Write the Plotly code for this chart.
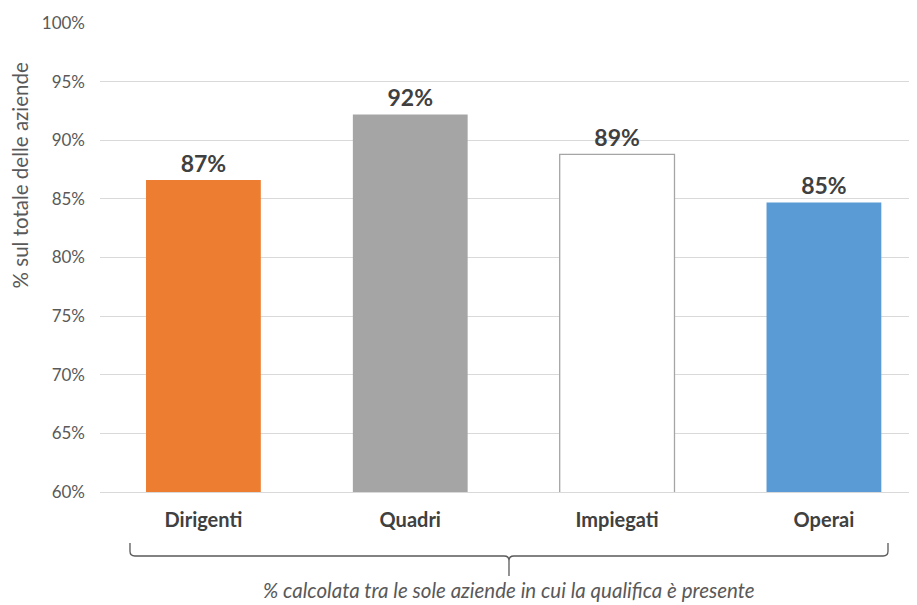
import plotly.graph_objects as go

categories = ["Dirigenti", "Quadri", "Impiegati", "Operai"]
values = [86.6, 92.2, 88.8, 84.7]
labels = ["87%", "92%", "89%", "85%"]
colors = ["#ED7D31", "#A5A5A5", "#FFFFFF", "#5B9BD5"]
line_colors = ["#ED7D31", "#A5A5A5", "#A5A5A5", "#5B9BD5"]
line_widths = [0, 0, 1.3, 0]
y_ticks = [60, 65, 70, 75, 80, 85, 90, 95, 100]
y_ticklabels = [f"{t}%" for t in y_ticks]

FONT = "Lato, 'Open Sans', sans-serif"

fig = go.Figure()
fig.add_trace(go.Bar(
    x=categories, y=values, width=0.555,
    marker=dict(color=colors, line=dict(color=line_colors, width=line_widths)),
    text=labels, textposition="outside", cliponaxis=False,
    textfont=dict(family=FONT, size=23, color="#404040", weight="bold"),
    hoverinfo="skip",
))

fig.update_layout(
    width=909, height=597,
    margin=dict(l=92, r=0, t=15, b=113),
    paper_bgcolor="white", plot_bgcolor="white",
    showlegend=False,
    font=dict(family=FONT),
    xaxis=dict(
        range=[-0.5, 3.45], showgrid=False, showline=True, linecolor="#D9D9D9",
        linewidth=1, ticks="", tickfont=dict(family=FONT, size=20, color="#404040", weight="bold"),
        ticklabelstandoff=10,
    ),
    yaxis=dict(
        range=[60, 100], tickvals=y_ticks, ticktext=y_ticklabels,
        showgrid=True, gridcolor="#D9D9D9", gridwidth=1, zeroline=False,
        tickfont=dict(family=FONT, size=17, color="#595959"),
        ticklabelstandoff=14,
    ),
)

fig.add_annotation(
    text="% sul totale delle aziende", textangle=-90,
    x=-0.0985, y=0.674, xref="paper", yref="paper", showarrow=False,
    xanchor="center", yanchor="middle",
    font=dict(family=FONT, size=20.5, color="#595959"),
)

# bracket under the categories
x0, x1, xm = 0.0367, 0.9645, 0.5006
yb, ye, ym = -0.1365, -0.1087, -0.179
r = 0.006
path = (f"M {x0},{ye} L {x0},{yb+0.01} Q {x0},{yb} {x0+r},{yb} "
        f"L {xm-r},{yb} Q {xm},{yb} {xm},{yb-0.01} L {xm},{ym} "
        f"M {xm},{yb-0.01} Q {xm},{yb} {xm+r},{yb} "
        f"L {x1-r},{yb} Q {x1},{yb} {x1},{yb+0.01} L {x1},{ye}")
fig.add_shape(type="path", path=path, xref="paper", yref="paper",
              line=dict(color="#595959", width=1.3))

fig.add_annotation(
    text="<i>% calcolata tra le sole aziende in cui la qualifica è presente</i>",
    x=0.5006, y=-0.2095, xref="paper", yref="paper", showarrow=False,
    xanchor="center", yanchor="middle",
    font=dict(family=FONT, size=20.5, color="#595959"),
)

fig.write_html("out.html")
